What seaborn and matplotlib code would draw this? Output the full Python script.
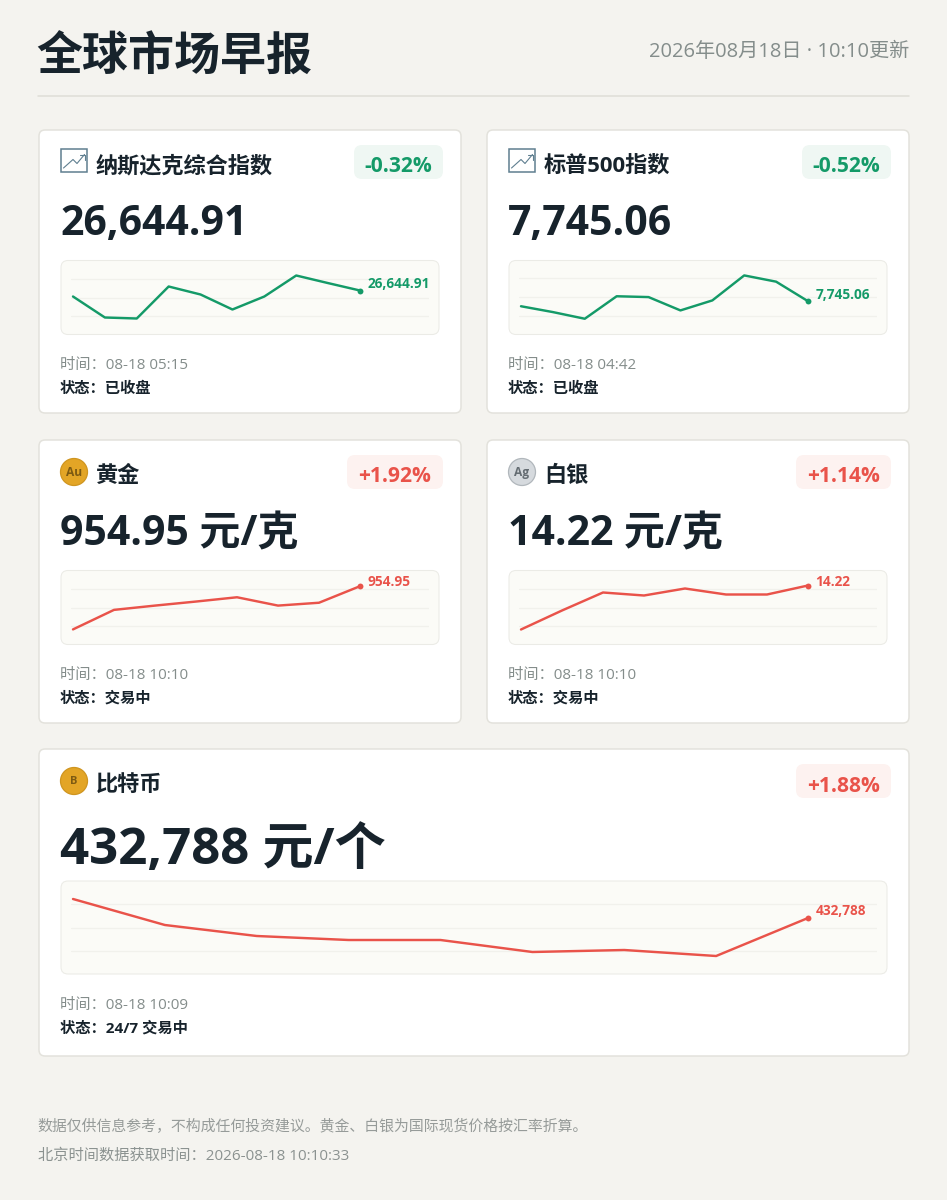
import matplotlib
matplotlib.use("Agg")
import matplotlib.pyplot as plt
from matplotlib.patches import FancyBboxPatch, Circle, Rectangle
import seaborn as sns

# values
nasdaq_values = [26615, 26510, 26505, 26665, 26625, 26550, 26615, 26720, 26682, 26644.91]
spx_values = [7739, 7732, 7724, 7751, 7750, 7734, 7746, 7776, 7768.5, 7745.06]
gold_values = [936.8, 945, 946.8, 948.5, 950.3, 946.8, 948, 954.95]
silver_values = [13.956, 14.07, 14.178, 14.16, 14.202, 14.166, 14.166, 14.22]
btc_values = [435448, 431808, 430268, 429708, 429708, 428028, 428308, 427468, 432788]

nasdaq_grid = [26705, 26610, 26517.5]
spx_grid = [7772.3, 7749.9, 7727.9]
gold_grid = [953.98, 946, 938.2]
silver_grid = [14.202, 14.088, 13.977]
btc_grid = [434748, 431388, 428168]

nasdaq_ylim = (26425, 26795)
spx_ylim = (7705.1, 7793.9)
gold_ylim = (930.46, 961.54)
silver_ylim = (13.866, 14.31)
btc_ylim = (424948, 437968)

GREEN = "#149a68"
RED = "#e9534a"
DARK = "#17232c"
GREY = "#848d8b"
W, H = 947, 1200

sns.set_theme(style="white")
plt.rcParams["font.family"] = ["Open Sans", "Noto Sans CJK SC", "DejaVu Sans"]


def px(size):
    return size * 0.72


def box(page, x0, y0, x1, y1, r, face, edge="none", lw=0, z=1):
    page.add_patch(FancyBboxPatch((x0, y0), x1 - x0, y1 - y0, boxstyle=f"round,pad=0,rounding_size={r}",
                                  facecolor=face, edgecolor=edge, linewidth=lw, zorder=z))


def sparkline(fig, page, values, grid, ylim, label, color, left, top, right, height, last_x, label_dy):
    box(page, left, top, right, top + height, 7, "#fbfbf7", "#ebebe6", 0.75, z=2)
    # grid runs 10px in from the panel, the line starts 2px in from the grid
    gx0, gx1 = left + 10, right - 10
    ax = fig.add_axes([gx0 / W, 1 - (top + height) / H, (gx1 - gx0) / W, height / H], zorder=5)
    ax.patch.set_alpha(0)
    xs = list(range(len(values)))
    step = (last_x - (gx0 + 2)) / (len(values) - 1)
    sns.lineplot(x=xs, y=values, ax=ax, color=color, linewidth=1.75, legend=False)
    ax.scatter([xs[-1]], [values[-1]], s=18, color=color, linewidths=0, zorder=6)
    ax.annotate(label, (xs[-1], values[-1]), xytext=(5.4, label_dy), textcoords="offset points", color=color,
                fontsize=px(13.6), fontweight="bold", va="center", ha="left")
    ax.set_xlim(-2 / step, (gx1 - gx0 - 2) / step)
    ax.set_ylim(*ylim)
    ax.set_yticks(grid)
    ax.set_xticks([])
    ax.tick_params(left=False, labelleft=False)
    ax.grid(axis="y", color="#f1f1ec", linewidth=0.9)
    ax.set_xlabel("")
    ax.set_ylabel("")
    sns.despine(ax=ax, left=True, bottom=True)


def chart_icon(page, x, y):
    page.add_patch(Rectangle((x + 0.5, y), 26, 23.5, facecolor="white", edgecolor="#5f7f90", linewidth=1.1, zorder=3))
    page.plot([x + 3.5, x + 13, x + 17, x + 24.5], [y + 19.5, y + 11, y + 15, y + 6], color="#5f7f90", lw=0.8, zorder=4)
    page.plot([x + 19.5, x + 24.5, x + 24.5], [y + 6, y + 6, y + 11], color="#5f7f90", lw=0.8, zorder=4)


def coin(page, x, y, text, face, edge, ink, size):
    page.add_patch(Circle((x, y), 13.5, facecolor=face, edgecolor=edge, linewidth=0.9, zorder=3))
    page.text(x, y + 0.5, text, color=ink, fontsize=px(size), fontweight="bold", ha="center", va="center", zorder=4)


def card(fig, page, x0, x1, top, height, title, value, value_size, change, color, badge_x0, values, grid, ylim,
         label, last_x, label_dy, panel_top, panel_h, value_base, time_text, status_text):
    box(page, x0, top, x1, top + height, 6, "white", "#e3e2dc", 1.1)
    page.text(x0 + 57, top + 42, title, color=DARK, fontsize=px(22.2), fontweight="bold", va="baseline", zorder=4)
    page.text(x0 + 21, top + value_base, value, color=DARK, fontsize=px(value_size), fontweight="bold", va="baseline", zorder=4)
    badge_bg = "#eff7f3" if color == GREEN else "#fdf2f0"
    box(page, badge_x0, top + 15, x1 - 18, top + 49, 8, badge_bg, z=2)
    page.text((badge_x0 + x1 - 18) / 2, top + 42.5, change, color=color, fontsize=px(21), fontweight="bold",
              ha="center", va="baseline", zorder=4)
    sparkline(fig, page, values, grid, ylim, label, color, x0 + 22, top + panel_top, x1 - 22, panel_h, last_x, label_dy)
    below = top + panel_top + panel_h
    page.text(x0 + 21, below + 34.5, time_text, color=GREY, fontsize=px(15.3), va="baseline", zorder=4)
    page.text(x0 + 21, below + 58.5, status_text, color=DARK, fontsize=px(15.3), fontweight="bold", va="baseline", zorder=4)


fig = plt.figure(figsize=(W / 100, H / 100), dpi=100, facecolor="#f4f3ef")
page = fig.add_axes([0, 0, 1, 1], zorder=0)
page.set_xlim(0, W)
page.set_ylim(H, 0)
page.axis("off")

page.text(36, 71, "全球市场早报", color=DARK, fontsize=px(46), fontweight="bold", va="baseline")
page.text(909, 57, "2026年08月18日 · 10:10更新", color=GREY, fontsize=px(20.15), ha="right", va="baseline")
page.plot([38, 909], [95.5, 95.5], color="#dedDd7", lw=1.1)

card(fig, page, 39, 461, 130, 283, "纳斯达克综合指数", "26,644.91", 41, "-0.32%", GREEN, 354, nasdaq_values, nasdaq_grid,
     nasdaq_ylim, "26,644.91", 360, 4.4, 130.5, 74, 105, "时间：08-18 05:15", "状态：已收盘")
card(fig, page, 487, 909, 130, 283, "标普500指数", "7,745.06", 41, "-0.52%", GREEN, 802, spx_values, spx_grid,
     spx_ylim, "7,745.06", 808, 4.4, 130.5, 74, 105, "时间：08-18 04:42", "状态：已收盘")
card(fig, page, 39, 461, 440, 283, "黄金", "954.95 元/克", 41, "+1.92%", RED, 347, gold_values, gold_grid,
     gold_ylim, "954.95", 360, 3, 130.5, 74, 105, "时间：08-18 10:10", "状态：交易中")
card(fig, page, 487, 909, 440, 283, "白银", "14.22 元/克", 41, "+1.14%", RED, 796, silver_values, silver_grid,
     silver_ylim, "14.22", 808, 2.6, 130.5, 74, 105, "时间：08-18 10:10", "状态：交易中")
card(fig, page, 39, 909, 749, 307, "比特币", "432,788 元/个", 51, "+1.88%", RED, 796, btc_values, btc_grid,
     btc_ylim, "432,788", 808, 4.8, 132, 93, 115, "时间：08-18 10:09", "状态：24/7 交易中")

chart_icon(page, 60, 148.5)
chart_icon(page, 508, 148.5)
coin(page, 74, 472, "Au", "#e3a526", "#cf9520", "#7d5a12", 12)
coin(page, 522, 472, "Ag", "#d6dade", "#b1b7bc", "#656d73", 12)
coin(page, 74, 781, "B", "#e3a526", "#cf9520", "#7d5a12", 11)

page.text(37.5, 1131, "数据仅供信息参考，不构成任何投资建议。黄金、白银为国际现货价格按汇率折算。", color="#969b99", fontsize=px(14.9), va="baseline")
page.text(37.5, 1159.5, "北京时间数据获取时间：2026-08-18 10:10:33", color="#8b9290", fontsize=px(15.25), va="baseline")

fig.savefig("out.png", dpi=100, facecolor=fig.get_facecolor())
